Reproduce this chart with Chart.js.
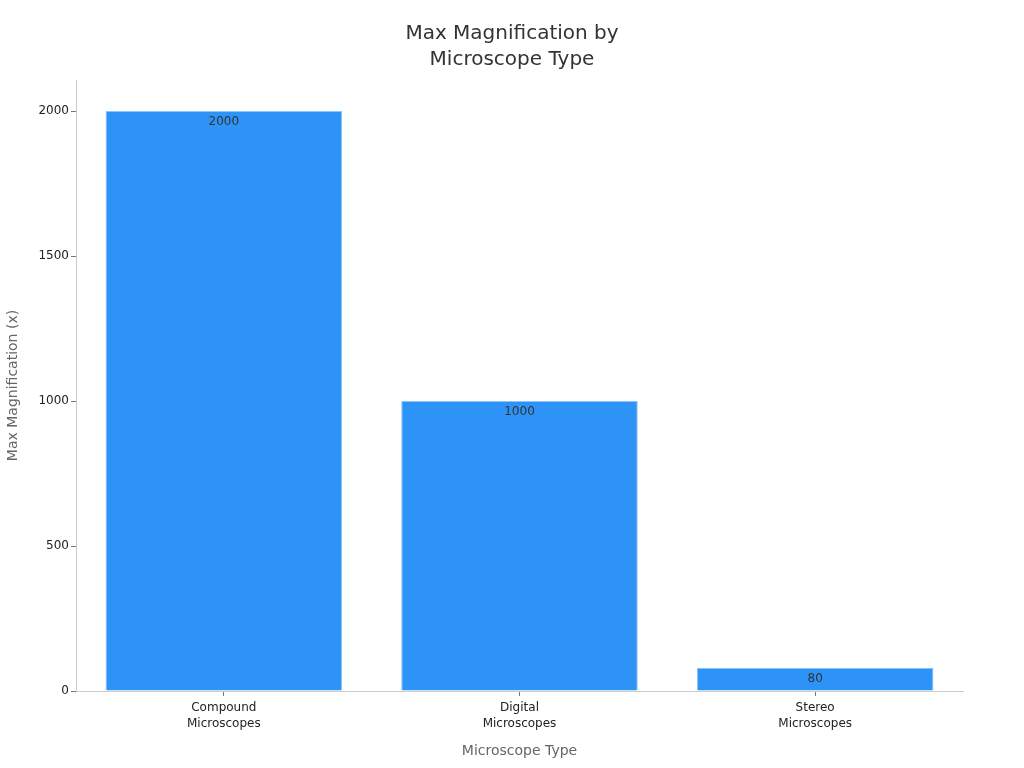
<!DOCTYPE html>
<html>
<head>
<meta charset="utf-8">
<script src="https://cdn.jsdelivr.net/npm/chart.js@4/dist/chart.umd.min.js"></script>
<style>
  html, body { margin: 0; padding: 0; background: #fff; }
  #wrap { width: 1024px; height: 768px; }
</style>
</head>
<body>
<div id="wrap"><canvas id="chart"></canvas></div>
<script>
// data
const titleLines = ['Max Magnification by', 'Microscope Type'];
const categories = [['Compound', 'Microscopes'], ['Digital', 'Microscopes'], ['Stereo', 'Microscopes']];
const magnification = [2000, 1000, 80];
const yTicks = [0, 500, 1000, 1500, 2000];

const ctx = document.querySelector('#chart');
Chart.defaults.font.family = 'DejaVu Sans, sans-serif';

// value labels just inside the top of each bar
const barLabels = {
  id: 'barLabels',
  afterDatasetsDraw(chart) {
    const c = chart.ctx;
    const meta = chart.getDatasetMeta(0);
    c.save();
    c.font = '12px DejaVu Sans';
    c.fillStyle = '#333';
    c.textAlign = 'center';
    c.textBaseline = 'middle';
    meta.data.forEach((bar, i) => {
      c.fillText(String(magnification[i]), bar.x, bar.y + 11);
    });
    c.restore();
  }
};

// title centred on the whole canvas, not on the plot box
const pageTitle = {
  id: 'pageTitle',
  afterDraw(chart) {
    const c = chart.ctx;
    c.save();
    c.font = '20px DejaVu Sans';
    c.fillStyle = '#333';
    c.textAlign = 'center';
    c.textBaseline = 'middle';
    titleLines.forEach((line, i) => {
      c.fillText(line, chart.width / 2, 34 + i * 26);
    });
    c.restore();
  }
};

new Chart(ctx, {
  type: 'bar',
  data: {
    labels: categories,
    datasets: [{
      label: 'Max Magnification (x)',
      data: magnification,
      backgroundColor: '#2e93f7',
      borderColor: '#8cc4f5',
      borderWidth: 1,
      barPercentage: 0.8,
      categoryPercentage: 1
    }]
  },
  options: {
    responsive: true,
    maintainAspectRatio: false,
    animation: false,
    layout: { padding: { left: 0, right: 61, top: 80, bottom: 0 } },
    plugins: {
      legend: { display: false },
      tooltip: { enabled: false },
      title: { display: false }
    },
    scales: {
      x: {
        afterFit: (axis) => { axis.height = 77; },
        grid: { display: true, offset: false, drawOnChartArea: false, tickLength: 5, color: '#777' },
        border: { color: '#ccc' },
        ticks: { color: '#222', font: { size: 12, lineHeight: 1.35 }, padding: 4 },
        title: {
          display: true,
          text: 'Microscope Type',
          color: '#666',
          font: { size: 14 },
          padding: { top: 4, bottom: 8 }
        }
      },
      y: {
        min: 0,
        max: 2107,
        afterFit: (axis) => { axis.width = 76; },
        afterBuildTicks: (axis) => {
          axis.ticks = yTicks.map(v => ({ value: v }));
        },
        grid: { display: true, drawOnChartArea: false, tickLength: 5, color: '#777' },
        border: { color: '#ccc' },
        ticks: { color: '#222', font: { size: 12 }, padding: 2, callback: (v) => String(v) },
        title: {
          display: true,
          text: 'Max Magnification (x)',
          color: '#666',
          font: { size: 14 },
          padding: { top: 5, bottom: 4 }
        }
      }
    }
  },
  plugins: [barLabels, pageTitle]
});
</script>
</body>
</html>
